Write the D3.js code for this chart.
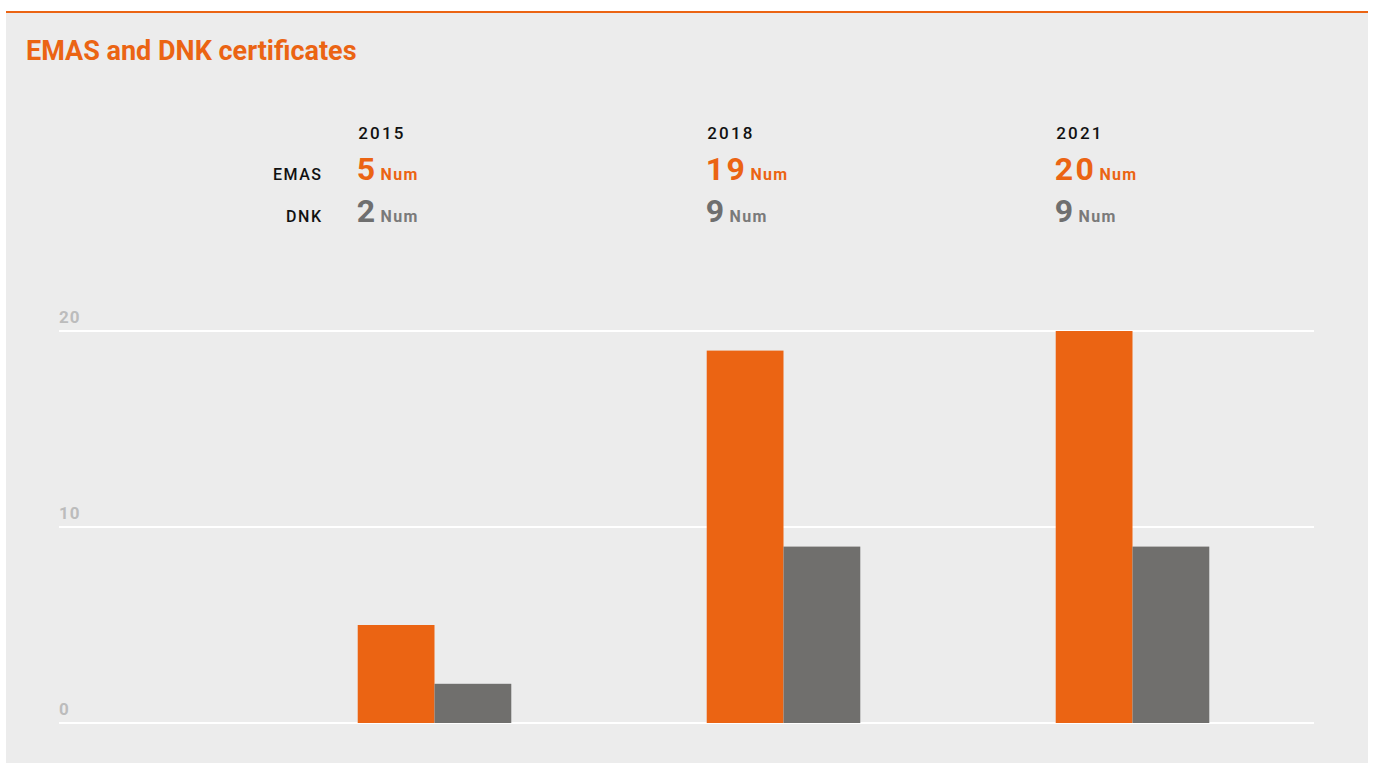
<!DOCTYPE html>
<html>
<head>
<meta charset="utf-8">
<script src="https://cdn.jsdelivr.net/npm/d3@7"></script>
<style>
  body { margin: 0; background: #fff; }
  text { font-family: Roboto, "Noto Sans", sans-serif; }
</style>
</head>
<body>
<script>
// data
var years = ["2015", "2018", "2021"];
var series = ["EMAS", "DNK"];
var emas = [5, 19, 20];
var dnk = [2, 9, 9];
var yTicks = [0, 10, 20];
var unit = "Num";

var colors = {EMAS: "#eb6413", DNK: "#706f6d"};
var labelColors = {EMAS: "#eb6413", DNK: "#6f6f6f"};
var unitColors = {EMAS: "#eb6413", DNK: "#7a7a7a"};

var W = 1373, H = 763;

var svg = d3.select("body").append("svg")
  .attr("width", W)
  .attr("height", H);

// panel
svg.append("rect")
  .attr("x", 6).attr("y", 13)
  .attr("width", 1362).attr("height", H - 13)
  .attr("fill", "#ececec");
svg.append("rect")
  .attr("x", 6).attr("y", 11)
  .attr("width", 1362).attr("height", 2)
  .attr("fill", "#eb6413");

svg.append("text")
  .attr("x", 26).attr("y", 60)
  .attr("fill", "#eb6413")
  .attr("font-size", 27)
  .attr("font-weight", 700)
  .text("EMAS and DNK certificates");

// scales
var y = d3.scaleLinear().domain([0, 20]).range([723, 331]);
var x = d3.scaleBand().domain(years)
  .range([260, 1307])
  .paddingInner(0.56)
  .paddingOuter(0.28);
var xs = d3.scaleBand().domain(series).range([0, x.bandwidth()]);

// grid
var grid = svg.append("g");
grid.selectAll("line").data(yTicks).enter().append("line")
  .attr("x1", 59).attr("x2", 1314)
  .attr("y1", function(d) { return y(d); })
  .attr("y2", function(d) { return y(d); })
  .attr("stroke", "#fff")
  .attr("stroke-width", 2);
grid.selectAll("text").data(yTicks).enter().append("text")
  .attr("x", 59)
  .attr("y", function(d) { return y(d) - 8; })
  .attr("fill", "#bcbcbc")
  .attr("font-size", 17)
  .attr("font-weight", 700)
  .attr("letter-spacing", 1)
  .text(function(d) { return d; });

// bars
var rows = years.map(function(yr, i) {
  return {year: yr, EMAS: emas[i], DNK: dnk[i]};
});

var groups = svg.selectAll("g.year").data(rows).enter().append("g")
  .attr("class", "year")
  .attr("transform", function(d) { return "translate(" + x(d.year) + ",0)"; });

groups.selectAll("rect").data(function(d) {
    return series.map(function(s) { return {key: s, value: d[s]}; });
  }).enter().append("rect")
  .attr("x", function(d) { return xs(d.key); })
  .attr("y", function(d) { return y(d.value); })
  .attr("width", xs.bandwidth())
  .attr("height", function(d) { return y(0) - y(d.value); })
  .attr("fill", function(d) { return colors[d.key]; });

// header labels
var rowY = {EMAS: 180, DNK: 222};

svg.selectAll("text.series").data(series).enter().append("text")
  .attr("class", "series")
  .attr("x", 322.5)
  .attr("y", function(d) { return rowY[d]; })
  .attr("text-anchor", "end")
  .attr("font-size", 16)
  .attr("font-weight", 500)
  .attr("letter-spacing", 1.5)
  .attr("fill", "#111")
  .text(function(d) { return d; });

groups.append("text")
  .attr("x", 0.5).attr("y", 139)
  .attr("font-size", 17)
  .attr("font-weight", 500)
  .attr("letter-spacing", 2.2)
  .attr("fill", "#111")
  .text(function(d) { return d.year; });

series.forEach(function(s) {
  var t = groups.append("text")
    .attr("x", -1).attr("y", rowY[s]);
  t.append("tspan")
    .attr("font-size", 32)
    .attr("font-weight", 700)
    .attr("letter-spacing", 2.5)
    .attr("fill", labelColors[s])
    .text(function(d) { return d[s]; });
  t.append("tspan")
    .attr("dx", 3)
    .attr("font-size", 16)
    .attr("font-weight", 700)
    .attr("letter-spacing", 1.3)
    .attr("fill", unitColors[s])
    .text(unit);
});
</script>
</body>
</html>
